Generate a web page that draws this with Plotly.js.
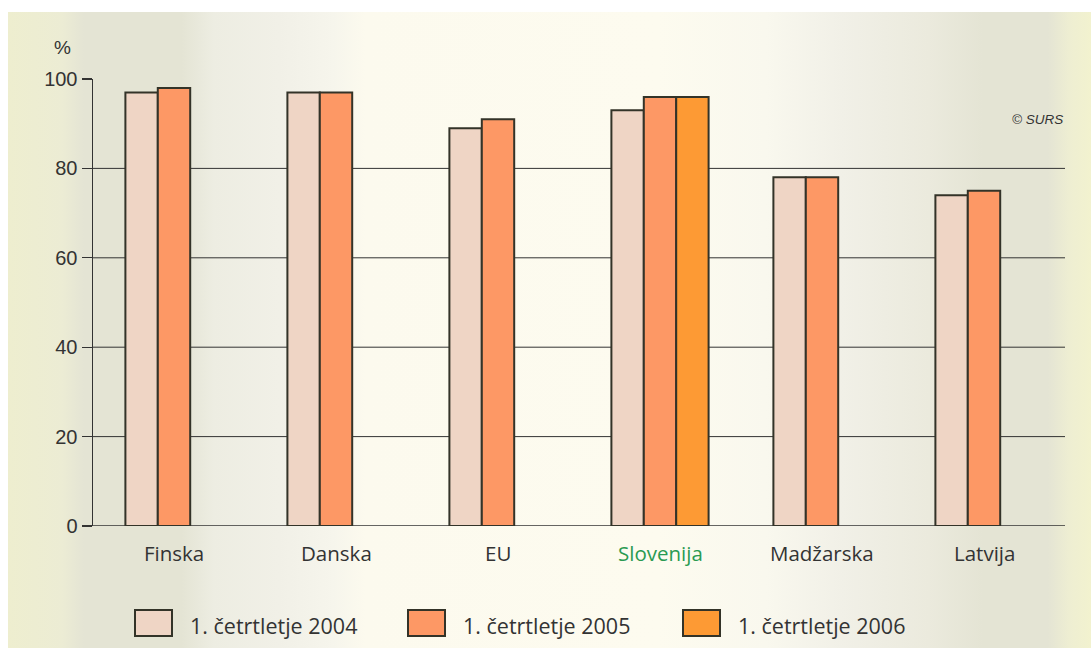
<!DOCTYPE html>
<html>
<head>
<meta charset="utf-8">
<script src="https://cdn.plot.ly/plotly-3.0.1.min.js"></script>
<style>
html,body{margin:0;padding:0;background:#ffffff;}
#bg{position:absolute;left:8px;top:12px;width:1083px;height:636px;
background:linear-gradient(to right,#eeeecf 0%,#ececd4 5%,#e4e4d4 7%,#e4e4d4 16%,#ededE2 19%,#f1f0e7 25%,#f6f5ec 30%,#fcfaee 33%,#fdfbef 60%,#f9f8ee 70%,#f1f0e7 77%,#ebeadd 85%,#e4e4d4 90%,#e4e4d4 96%,#eeeed2 98%,#f2f2cf 100%);}
#chart{position:absolute;left:0;top:0;width:1091px;height:648px;}
</style>
</head>
<body>
<div id="bg"></div>
<div id="chart"></div>
<script>
const categories = ["Finska", "Danska", "EU", "Slovenija", "Madžarska", "Latvija"];
const seriesNames = ["1. četrtletje 2004", "1. četrtletje 2005", "1. četrtletje 2006"];
const values2004 = [97, 97, 89, 93, 78, 74];
const values2005 = [98, 97, 91, 96, 78, 75];
const values2006 = [null, null, null, 96, null, null];
const yTicks = [0, 20, 40, 60, 80, 100];
const gridValues = [20, 40, 60, 80];
const colors = ["#efd5c5", "#fd9865", "#fd9a34"];
const catColors = ["#333333", "#333333", "#333333", "#2a9a52", "#333333", "#333333"];

const xPos = categories.map((c, i) => i);
const allSeries = [values2004, values2005, values2006];

const traces = allSeries.map((vals, k) => ({
  type: "bar",
  name: seriesNames[k],
  x: xPos,
  y: vals,
  marker: {color: colors[k], line: {color: "#333328", width: 2}},
  showlegend: false,
  hoverinfo: "x+y"
}));

const shapes = gridValues.map(v => ({
  type: "line", xref: "paper", yref: "y", x0: 0, x1: 1, y0: v, y1: v,
  line: {color: "#333333", width: 1}, layer: "below"
}));

const annotations = [];
// category labels
categories.forEach((c, i) => {
  annotations.push({
    x: i, y: 0, xref: "x", yref: "y", yshift: -27, text: c, showarrow: false,
    font: {family: "Open Sans, Noto Sans, sans-serif", size: 20.5, color: catColors[i]}
  });
});
// % label
annotations.push({x: (62 - 93) / 972, y: (526 - 47) / 447, xref: "paper", yref: "paper",
  xanchor: "center", yanchor: "middle", text: "%", showarrow: false,
  font: {family: "Liberation Sans, Arial, sans-serif", size: 19, color: "#333333"}});
// copyright
annotations.push({xref: "paper", yref: "y", x: 1, y: 91, xanchor: "right", text: "<i>© SURS</i>", showarrow: false,
  font: {family: "Liberation Sans, Arial, sans-serif", size: 13.5, color: "#333333"}});

// manual legend
const legX = [135, 408, 683];
const legY0 = 610, legY1 = 636;
seriesNames.forEach((n, k) => {
  shapes.push({type: "rect", xref: "paper", yref: "paper",
    x0: (legX[k] - 93) / 972, x1: (legX[k] + 37 - 93) / 972,
    y0: (526 - legY1) / 447, y1: (526 - legY0) / 447,
    fillcolor: colors[k], line: {color: "#333328", width: 2}});
  annotations.push({xref: "paper", yref: "paper", x: (legX[k] + 53 - 93) / 972, y: (526 - 625) / 447,
    xanchor: "left", yanchor: "middle", text: n, showarrow: false,
    font: {family: "Open Sans, Noto Sans, sans-serif", size: 21.5, color: "#333333"}});
});

const layout = {
  width: 1091, height: 648,
  margin: {l: 93, r: 26, t: 79, b: 122},
  paper_bgcolor: "rgba(0,0,0,0)",
  plot_bgcolor: "rgba(0,0,0,0)",
  barmode: "group",
  bargap: 0.4,
  bargroupgap: 0,
  xaxis: {range: [-0.5, 5.5], showticklabels: false, showgrid: false, zeroline: false,
    showline: false, ticks: ""},
  yaxis: {range: [0, 100], tickvals: yTicks, ticktext: yTicks.map(String),
    showgrid: false, zeroline: false, showline: true, linecolor: "#333333", linewidth: 1.5,
    ticks: "outside", ticklen: 10, tickcolor: "#333333", tickwidth: 1.2,
    tickfont: {family: "Liberation Sans, Arial, sans-serif", size: 20, color: "#333333"}},
  shapes: shapes.concat([{type: "line", xref: "paper", yref: "y", x0: 0, x1: 1, y0: 0, y1: 0,
    line: {color: "#333333", width: 1.5}, layer: "below"}]),
  annotations: annotations,
  showlegend: false
};

Plotly.newPlot("chart", traces, layout, {displayModeBar: false, staticPlot: true});
</script>
</body>
</html>
